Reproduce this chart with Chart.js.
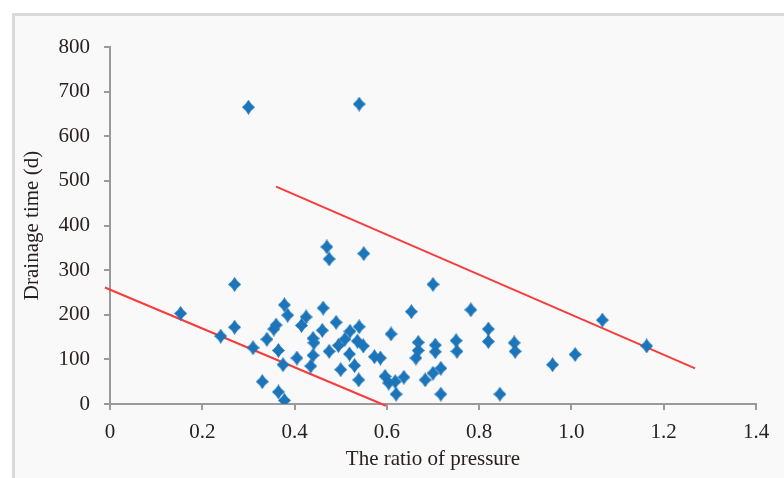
<!DOCTYPE html>
<html>
<head>
<meta charset="utf-8">
<script src="https://cdn.jsdelivr.net/npm/chart.js@4/dist/chart.umd.min.js"></script>
<style>
  html, body { margin: 0; padding: 0; background: #ffffff; }
  #wrap { position: relative; width: 784px; height: 478px; overflow: hidden; }
  #panel {
    position: absolute; left: 12px; top: 13px; right: -10px; bottom: -10px;
    background: #f9f9f9; border-left: 3px solid #dadada; border-top: 3px solid #dadada;
  }
  #chart { position: absolute; left: 0; top: 0; }
</style>
</head>
<body>
<div id="wrap">
  <div id="panel"></div>
  <canvas id="chart" width="784" height="478"></canvas>
</div>
<script>
// measured wells: pressure ratio vs drainage time (days)
const pressureRatio = [
  0.30, 0.54, 0.47, 0.475, 0.55, 0.27, 0.70, 0.153, 0.24, 0.27,
  0.31, 0.33, 0.34, 0.355, 0.36, 0.365, 0.365, 0.375, 0.378, 0.378,
  0.385, 0.405, 0.415, 0.425, 0.435, 0.44, 0.442, 0.44, 0.46, 0.462,
  0.475, 0.49, 0.495, 0.50, 0.509, 0.52, 0.519, 0.53, 0.536, 0.54,
  0.549, 0.539, 0.573, 0.586, 0.596, 0.604, 0.618, 0.62, 0.609, 0.637,
  0.653, 0.663, 0.668, 0.668, 0.683, 0.70, 0.705, 0.705, 0.717, 0.717,
  0.75, 0.752, 0.782, 0.82, 0.82, 0.845, 0.876, 0.878, 0.959, 1.008,
  1.067, 1.163
];
const drainageDays = [
  665, 672, 352, 325, 337, 268, 268, 203, 152, 172,
  126, 50, 145, 168, 177, 120, 27, 88, 8, 222,
  199, 103, 176, 195, 85, 147, 137, 109, 165, 215,
  118, 183, 131, 77, 145, 163, 112, 86, 141, 173,
  130, 54, 106, 103, 62, 47, 50, 22, 157, 60,
  207, 103, 120, 138, 54, 69, 132, 117, 80, 22,
  142, 118, 211, 168, 140, 22, 137, 118, 88, 111,
  188, 130
];

// boundary lines
const lowerLineX = [-0.011, 0.598];
const lowerLineY = [261, -4];
const upperLineX = [0.36, 1.268];
const upperLineY = [487, 80];

const xTicks = [0, 0.2, 0.4, 0.6, 0.8, 1.0, 1.2, 1.4];
const xTickLabels = ['0', '0.2', '0.4', '0.6', '0.8', '1.0', '1.2', '1.4'];
const yTicks = [0, 100, 200, 300, 400, 500, 600, 700, 800];

const toXY = (xs, ys) => xs.map((x, i) => ({ x: x, y: ys[i] }));

// diamond marker, sides only slightly pinched
function makeDiamond() {
  const c = document.createElement('canvas');
  c.width = 13; c.height = 15;
  const g = c.getContext('2d');
  g.fillStyle = '#1c74b9';
  g.beginPath();
  g.moveTo(6.5, 0);
  g.quadraticCurveTo(9.0, 4.6, 13, 7.5);
  g.quadraticCurveTo(9.0, 10.4, 6.5, 15);
  g.quadraticCurveTo(4.0, 10.4, 0, 7.5);
  g.quadraticCurveTo(4.0, 4.6, 6.5, 0);
  g.fill();
  return c;
}

const serif = '"Liberation Serif", "Times New Roman", serif';
const inkColor = '#2a2020';
const axisColor = '#9a9a9a';

new Chart(document.getElementById('chart'), {
  type: 'scatter',
  data: {
    datasets: [
      {
        label: 'wells',
        data: toXY(pressureRatio, drainageDays),
        pointStyle: makeDiamond(),
        pointRadius: 6,
        order: 1
      },
      {
        type: 'line',
        label: 'lower',
        data: toXY(lowerLineX, lowerLineY),
        borderColor: '#f63c3c',
        borderWidth: 2,
        pointRadius: 0,
        fill: false,
        clip: false,
        order: 2
      },
      {
        type: 'line',
        label: 'upper',
        data: toXY(upperLineX, upperLineY),
        borderColor: '#f63c3c',
        borderWidth: 2,
        pointRadius: 0,
        fill: false,
        clip: false,
        order: 2
      }
    ]
  },
  options: {
    responsive: false,
    animation: false,
    layout: { padding: { top: 47, right: 28, left: 0, bottom: 0 } },
    plugins: { legend: { display: false }, tooltip: { enabled: false } },
    scales: {
      x: {
        type: 'linear',
        min: 0,
        max: 1.4,
        afterFit: (s) => { s.height = 74; },
        afterBuildTicks: (s) => { s.ticks = xTicks.map(v => ({ value: v })); },
        ticks: {
          color: inkColor,
          font: { family: serif, size: 21 },
          padding: 10,
          callback: (v) => xTickLabels[xTicks.indexOf(v)]
        },
        grid: { drawOnChartArea: false, drawTicks: true, tickLength: 6, color: axisColor, lineWidth: 2 },
        border: { color: axisColor, width: 2 },
        title: {
          display: true,
          text: 'The ratio of pressure',
          color: inkColor,
          font: { family: serif, size: 21 },
          padding: { bottom: 6, top: 0 }
        }
      },
      y: {
        type: 'linear',
        min: 0,
        max: 800,
        afterFit: (s) => { s.width = 110; },
        afterBuildTicks: (s) => { s.ticks = yTicks.map(v => ({ value: v })); },
        ticks: {
          color: inkColor,
          font: { family: serif, size: 21 },
          padding: 14
        },
        grid: { drawOnChartArea: false, drawTicks: true, tickLength: 6, color: axisColor, lineWidth: 2 },
        border: { color: axisColor, width: 2 },
        title: {
          display: true,
          text: 'Drainage time (d)',
          color: inkColor,
          font: { family: serif, size: 21 },
          padding: { top: 20, bottom: 0 }
        }
      }
    }
  }
});
</script>
</body>
</html>
